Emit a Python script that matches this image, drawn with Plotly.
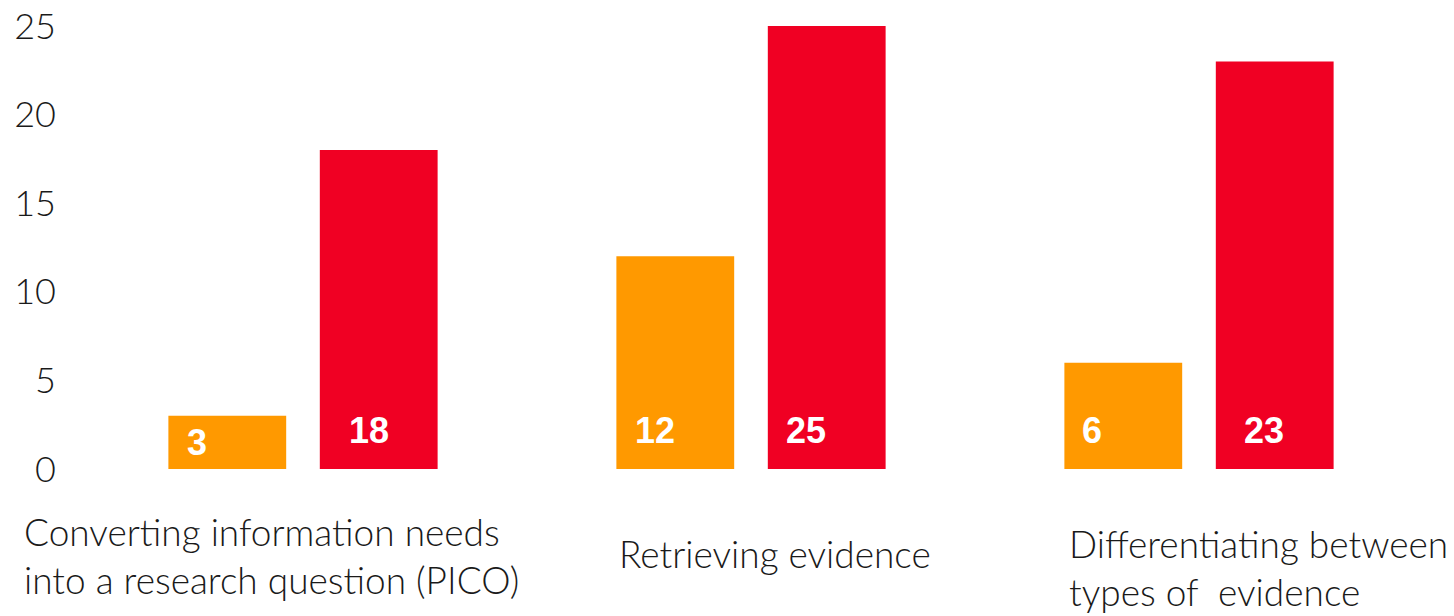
import plotly.graph_objects as go

categories = [
    "Converting information needs<br>into a research question (PICO)",
    "Retrieving evidence",
    "Differentiating between<br>types of  evidence",
]
series_a = [3, 12, 6]      # orange
series_b = [18, 25, 23]    # red
y_ticks = [0, 5, 10, 15, 20, 25]

ORANGE = "#FF9900"
RED = "#F00023"

# layout geometry
M_L, M_R, M_T, M_B = 79, 31, 26, 147
W, H = 1454, 616
BARGAP = 0.324
BARGROUPGAP = 0.222
Y_MAX = 25

x_idx = list(range(len(categories)))

fig = go.Figure()
fig.add_trace(go.Bar(x=x_idx, y=series_a, marker=dict(color=ORANGE, line=dict(width=0)), name="A"))
fig.add_trace(go.Bar(x=x_idx, y=series_b, marker=dict(color=RED, line=dict(width=0)), name="B"))

plot_h = H - M_T - M_B
px_per_unit = plot_h / Y_MAX
slot = (1 - BARGAP) / 2
bar_w = slot * (1 - BARGROUPGAP)

# value labels (left-ish inside base, white bold)
label_xshift = [[17, 17, 16], [27, 16, 26]]
annotations = []
for s, (vals, sign) in enumerate([(series_a, -1), (series_b, 1)]):
    for i, v in enumerate(vals):
        center = i + sign * slot / 2
        left = center - bar_w / 2
        ys = min(v * px_per_unit / 2, 39)
        annotations.append(dict(
            x=left, y=0, xref="x", yref="y", text=f"<b>{v}</b>",
            showarrow=False, xanchor="left", yanchor="middle",
            xshift=label_xshift[s][i], yshift=ys,
            font=dict(family="Liberation Sans, Arial", size=36, color="white"),
        ))

# category labels (text boxes)
cat_pos = [(-281, 555), (-134, 553), (-132, 567)]  # (px offset from group center, y center px)
for i, c in enumerate(categories):
    dx, yc = cat_pos[i]
    annotations.append(dict(
        x=i, y=1 - (yc - M_T) / plot_h, xref="x", yref="paper", text=c,
        showarrow=False, xanchor="left", yanchor="middle", align="left",
        xshift=dx,
        font=dict(family="Lato", size=37, color="#1a1a1a", weight=300),
    ))

fig.update_layout(
    width=W, height=H,
    margin=dict(l=M_L, r=M_R, t=M_T, b=M_B, autoexpand=False),
    barmode="group", bargap=BARGAP, bargroupgap=BARGROUPGAP,
    plot_bgcolor="white", paper_bgcolor="white",
    showlegend=False,
    annotations=annotations,
    xaxis=dict(range=[-0.5, len(categories) - 0.5], showticklabels=False,
               showgrid=False, zeroline=False, showline=False, ticks="",
               automargin=False),
    yaxis=dict(range=[0, Y_MAX], tickvals=y_ticks, ticktext=[str(t) for t in y_ticks],
               showgrid=False, zeroline=False, showline=False, ticks="",
               ticklabelstandoff=22, automargin=False,
               tickfont=dict(family="Lato", size=36, color="#1a1a1a", weight=300)),
)

fig.write_html("out.html")
